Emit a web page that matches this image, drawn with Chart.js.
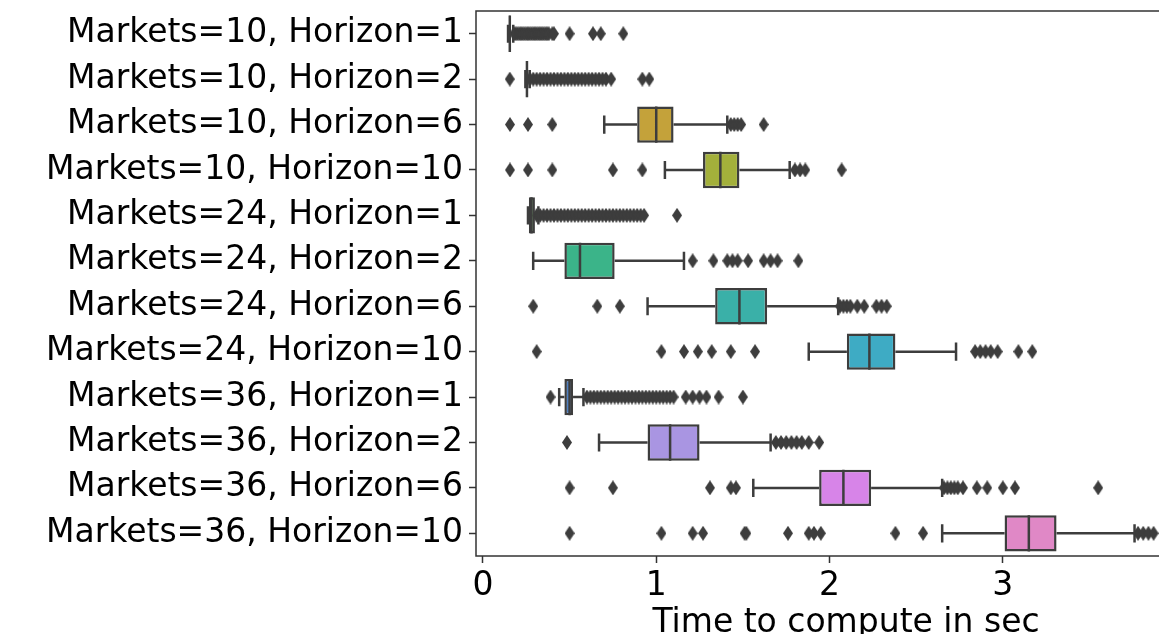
<!DOCTYPE html>
<html>
<head>
<meta charset="utf-8">
<script src="https://cdn.jsdelivr.net/npm/chart.js@4.4.1/dist/chart.umd.min.js"></script>
<style>
html,body{margin:0;padding:0;background:#fff;overflow:hidden;}
canvas{display:block;}
</style>
</head>
<body>
<canvas id="boxChart" width="1222" height="643"></canvas>
<script>
/* ================= DATA ================= */
const labels=[
"Markets=10, Horizon=1",
"Markets=10, Horizon=2",
"Markets=10, Horizon=6",
"Markets=10, Horizon=10",
"Markets=24, Horizon=1",
"Markets=24, Horizon=2",
"Markets=24, Horizon=6",
"Markets=24, Horizon=10",
"Markets=36, Horizon=1",
"Markets=36, Horizon=2",
"Markets=36, Horizon=6",
"Markets=36, Horizon=10"
];

const whiskerLow =[0.145,0.245,0.70,1.05,0.26,0.29,0.95,1.88,0.44,0.67,1.56,2.65];
const q1         =[0.150,0.250,0.89,1.27,0.265,0.47,1.34,2.10,0.47,0.95,1.94,3.01];
const median     =[0.155,0.254,1.00,1.37,0.28,0.56,1.48,2.23,0.50,1.08,2.08,3.15];
const q3         =[0.160,0.258,1.10,1.48,0.30,0.76,1.64,2.38,0.52,1.25,2.24,3.31];
const whiskerHigh=[0.175,0.270,1.41,1.77,0.32,1.16,2.05,2.73,0.58,1.66,2.65,3.76];

const outliers=[
[0.18,0.19,0.20,0.21,0.22,0.23,0.24,0.25,0.26,0.27,0.28,0.29,0.30,0.31,0.32,0.33,0.34,0.35,0.36,0.37,0.38,0.40,0.41,0.50,0.635,0.68,0.81],
[0.155,0.27,0.29,0.31,0.33,0.35,0.37,0.39,0.41,0.43,0.45,0.47,0.49,0.51,0.53,0.55,0.57,0.59,0.61,0.63,0.65,0.67,0.69,0.71,0.74,0.92,0.96],
[0.156,0.26,0.40,1.43,1.45,1.47,1.49,1.62],
[0.156,0.26,0.40,0.75,0.92,1.80,1.83,1.86,2.07],
[0.31,0.33,0.35,0.37,0.39,0.41,0.43,0.45,0.47,0.49,0.51,0.53,0.55,0.57,0.59,0.61,0.63,0.65,0.67,0.69,0.71,0.73,0.75,0.77,0.79,0.81,0.83,0.85,0.87,0.89,0.91,0.93,1.12],
[1.21,1.33,1.41,1.44,1.47,1.53,1.62,1.66,1.70,1.82],
[0.29,0.66,0.79,2.06,2.08,2.10,2.12,2.16,2.20,2.27,2.30,2.33],
[0.31,1.03,1.16,1.24,1.32,1.43,1.57,2.84,2.87,2.90,2.93,2.97,3.09,3.17],
[0.39,0.60,0.62,0.64,0.66,0.68,0.70,0.72,0.74,0.76,0.78,0.80,0.82,0.84,0.86,0.88,0.90,0.92,0.94,0.96,0.98,1.00,1.02,1.04,1.06,1.08,1.10,1.17,1.21,1.25,1.29,1.36,1.50],
[0.485,1.69,1.72,1.75,1.78,1.81,1.84,1.88,1.94],
[0.50,0.75,1.31,1.43,1.46,2.66,2.68,2.70,2.72,2.74,2.77,2.85,2.91,3.00,3.07,3.55],
[0.50,1.03,1.21,1.27,1.51,1.52,1.76,1.88,1.91,1.95,2.38,2.54,3.78,3.81,3.84,3.87]
];

const boxColors=[
"#d56b7f","#c9823c","#c4a23a","#a3b03b",
"#5cb04c","#3bb489","#3ab0a8","#3eabc4",
"#4f80c2","#a995e2","#d784e8","#e088c6"
];

const xTicks=[0,1,2,3,4];

const edgeColor="#3d3d3d";
const fontFamily="'DejaVu Sans', sans-serif";

/* ================= DIAMOND MARKER ================= */
function makeDiamond(){
const c=document.createElement("canvas");
c.width=10;
c.height=15;
const g=c.getContext("2d");
g.fillStyle=edgeColor;
g.beginPath();
g.moveTo(5,0);
g.lineTo(10,7.5);
g.lineTo(5,15);
g.lineTo(0,7.5);
g.closePath();
g.fill();
return c;
}

/* build outlier points */
const outlierPoints=[];
outliers.forEach((row,i)=>{
row.forEach(v=>{
outlierPoints.push({x:v,y:labels[i]});
});
});

/* ================= PLUGINS ================= */
const boxExtras={
id:"boxExtras",
afterDatasetsDraw(chart){
const ctx=chart.ctx;
const xs=chart.scales.x;
const meta=chart.getDatasetMeta(0);
ctx.save();
ctx.strokeStyle=edgeColor;
ctx.lineWidth=2.5;
ctx.lineCap="butt";
labels.forEach((l,i)=>{
const bar=meta.data[i];
const y=bar.y;
const h=bar.height;
const cap=h/4;
const pLo=xs.getPixelForValue(whiskerLow[i]);
const pQ1=xs.getPixelForValue(q1[i]);
const pQ3=xs.getPixelForValue(q3[i]);
const pHi=xs.getPixelForValue(whiskerHigh[i]);
const pMed=xs.getPixelForValue(median[i]);
ctx.beginPath();
/* whiskers */
ctx.moveTo(pLo,y);ctx.lineTo(pQ1,y);
ctx.moveTo(pQ3,y);ctx.lineTo(pHi,y);
/* caps */
ctx.moveTo(pLo,y-cap);ctx.lineTo(pLo,y+cap);
ctx.moveTo(pHi,y-cap);ctx.lineTo(pHi,y+cap);
/* median */
ctx.moveTo(pMed,y-h/2);ctx.lineTo(pMed,y+h/2);
ctx.stroke();
});
ctx.restore();
}
};

const frame={
id:"frame",
afterDraw(chart){
const a=chart.chartArea;
const ctx=chart.ctx;
ctx.save();
ctx.strokeStyle="#333";
ctx.lineWidth=1.5;
ctx.strokeRect(a.left,a.top,a.right-a.left,a.bottom-a.top);
ctx.restore();
}
};

/* ================= CHART ================= */
new Chart(
document.getElementById("boxChart"),
{
type:"bar",
data:{
labels:labels,
datasets:[
{
label:"box",
data:labels.map((l,i)=>[q1[i],q3[i]]),
backgroundColor:boxColors,
borderColor:edgeColor,
borderWidth:2.5,
borderSkipped:false,
barPercentage:0.8,
categoryPercentage:1
},
{
type:"scatter",
label:"outliers",
data:outlierPoints,
pointStyle:makeDiamond(),
backgroundColor:edgeColor,
borderColor:edgeColor
}
]
},
options:{
indexAxis:"y",
responsive:false,
animation:false,
events:[],
layout:{
padding:{top:11,right:6,left:0,bottom:0}
},
plugins:{
legend:{display:false},
tooltip:{enabled:false}
},
scales:{
x:{
type:"linear",
min:-0.04,
max:4.23,
afterBuildTicks(scale){
scale.ticks=xTicks.map(v=>({value:v}));
},
afterFit(scale){
scale.height=87;
scale.paddingLeft=0;
scale.paddingRight=0;
},
grid:{
drawOnChartArea:false,
drawTicks:true,
tickLength:7,
tickColor:"#333",
tickWidth:1.5
},
border:{display:false},
ticks:{
color:"#000",
padding:4,
font:{family:fontFamily,size:33}
},
title:{
display:true,
text:"Time to compute in sec",
color:"#000",
padding:{top:0,bottom:0},
font:{family:fontFamily,size:33}
}
},
y:{
type:"category",
afterFit(scale){
scale.width=476;
scale.paddingTop=0;
scale.paddingBottom=0;
},
grid:{
offset:false,
drawOnChartArea:false,
drawTicks:true,
tickLength:7,
tickColor:"#333",
tickWidth:1.5
},
border:{display:false},
ticks:{
autoSkip:false,
color:"#000",
padding:6,
font:{family:fontFamily,size:33}
}
}
}
},
plugins:[boxExtras,frame]
}
);
</script>
</body>
</html>
